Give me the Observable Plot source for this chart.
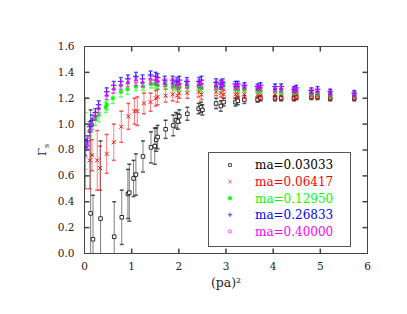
<!DOCTYPE html>
<html>
<head>
<meta charset="utf-8">
<script src="https://cdn.jsdelivr.net/npm/d3@7"></script>
<script src="https://cdn.jsdelivr.net/npm/@observablehq/plot@0.6"></script>
<style>
  body { margin: 0; background: #fff; }
  #wrap { position: relative; width: 407px; height: 314px; }
  #legend { position: absolute; left: 208px; top: 152px; }
</style>
</head>
<body>
<div id="wrap"></div>
<script>
// ---- data ----
const seriesNames = ["ma=0.03033", "ma=0.06417", "ma=0.12950", "ma=0.26833", "ma=0.40000"];
const seriesColors = ["#000000", "#ff0000", "#00ff00", "#0000ff", "#ff00ff"];
const xTicks = [0, 1, 2, 3, 4, 5, 6];
const yTicks = [0, 0.2, 0.4, 0.6, 0.8, 1.0, 1.2, 1.4, 1.6];

const xBlack = [0.13, 0.18, 0.34, 0.63, 0.79, 0.92, 0.95, 1.04, 1.09, 1.24, 1.41, 1.49, 1.52, 1.55, 1.72, 1.88, 1.94, 1.98, 2.01, 2.18, 2.42, 2.47, 2.50, 2.79, 2.89, 2.95, 3.20, 3.25, 3.39, 3.67, 3.73, 4.04, 4.17, 4.44, 4.49, 4.81, 4.94, 5.21, 5.72];
const yBlack = [0.31, 0.11, 0.27, 0.13, 0.28, 0.46, 0.47, 0.58, 0.61, 0.75, 0.82, 0.83, 0.88, 0.90, 0.96, 0.99, 1.03, 1.02, 1.06, 1.08, 1.12, 1.13, 1.11, 1.16, 1.14, 1.17, 1.17, 1.18, 1.19, 1.19, 1.20, 1.20, 1.20, 1.20, 1.21, 1.21, 1.21, 1.20, 1.20];
const eBlack = [0.80, 0.34, 0.60, 0.27, 0.21, 0.19, 0.22, 0.14, 0.16, 0.12, 0.12, 0.14, 0.09, 0.09, 0.07, 0.08, 0.06, 0.06, 0.05, 0.05, 0.04, 0.04, 0.04, 0.04, 0.04, 0.03, 0.03, 0.03, 0.03, 0.02, 0.02, 0.02, 0.02, 0.02, 0.02, 0.02, 0.02, 0.02, 0.02];

const xRed = [0.02, 0.11, 0.16, 0.27, 0.33, 0.47, 0.62, 0.78, 0.93, 1.06, 1.12, 1.26, 1.40, 1.51, 1.55, 1.72, 1.87, 1.97, 2.01, 2.18, 2.42, 2.48, 2.79, 2.89, 2.95, 3.20, 3.25, 3.39, 3.67, 3.73, 4.04, 4.17, 4.44, 4.49, 4.81, 4.94, 5.21, 5.72];
const yRed = [0.85, 0.72, 0.76, 0.72, 0.66, 0.77, 0.86, 0.98, 1.06, 1.10, 1.10, 1.16, 1.17, 1.20, 1.21, 1.22, 1.23, 1.22, 1.24, 1.24, 1.25, 1.23, 1.25, 1.24, 1.23, 1.23, 1.23, 1.23, 1.23, 1.22, 1.23, 1.22, 1.22, 1.22, 1.22, 1.22, 1.21, 1.21];
const eRed = [0.35, 0.22, 0.12, 0.23, 0.17, 0.15, 0.14, 0.12, 0.10, 0.10, 0.11, 0.08, 0.07, 0.06, 0.06, 0.05, 0.05, 0.05, 0.04, 0.04, 0.04, 0.04, 0.03, 0.03, 0.03, 0.03, 0.03, 0.03, 0.03, 0.03, 0.03, 0.03, 0.03, 0.03, 0.02, 0.02, 0.02, 0.02];

const xGreen = [0.01, 0.11, 0.16, 0.23, 0.30, 0.45, 0.47, 0.60, 0.77, 0.91, 1.09, 1.24, 1.41, 1.50, 1.55, 1.72, 1.88, 1.96, 2.01, 2.18, 2.42, 2.48, 2.79, 2.89, 2.95, 3.20, 3.25, 3.39, 3.67, 3.73, 4.04, 4.17, 4.44, 4.49, 4.81, 4.94, 5.21, 5.72];
const yGreen = [0.87, 0.95, 0.99, 1.04, 1.07, 1.13, 1.15, 1.20, 1.25, 1.27, 1.29, 1.29, 1.31, 1.31, 1.30, 1.30, 1.29, 1.29, 1.29, 1.29, 1.29, 1.28, 1.29, 1.28, 1.30, 1.28, 1.27, 1.27, 1.26, 1.26, 1.26, 1.25, 1.25, 1.25, 1.24, 1.24, 1.23, 1.23];
const eGreen = [0.22, 0.05, 0.05, 0.05, 0.05, 0.04, 0.04, 0.04, 0.04, 0.04, 0.03, 0.03, 0.03, 0.03, 0.03, 0.03, 0.03, 0.03, 0.03, 0.03, 0.03, 0.03, 0.03, 0.03, 0.03, 0.02, 0.02, 0.02, 0.02, 0.02, 0.02, 0.02, 0.02, 0.02, 0.02, 0.02, 0.02, 0.02];

const xBlue = [0.01, 0.06, 0.11, 0.16, 0.23, 0.30, 0.47, 0.62, 0.77, 0.92, 1.09, 1.23, 1.40, 1.51, 1.55, 1.70, 1.87, 1.96, 2.01, 2.17, 2.43, 2.48, 2.79, 2.89, 2.93, 3.20, 3.25, 3.39, 3.67, 3.73, 4.04, 4.17, 4.44, 4.49, 4.81, 4.94, 5.21, 5.72];
const yBlue = [0.82, 0.87, 0.98, 1.03, 1.09, 1.15, 1.25, 1.30, 1.33, 1.35, 1.37, 1.35, 1.38, 1.37, 1.36, 1.34, 1.34, 1.33, 1.34, 1.33, 1.33, 1.34, 1.32, 1.31, 1.32, 1.31, 1.31, 1.30, 1.29, 1.30, 1.29, 1.29, 1.27, 1.28, 1.26, 1.27, 1.25, 1.24];
const eBlue = [0.06, 0.04, 0.04, 0.04, 0.03, 0.03, 0.03, 0.03, 0.03, 0.03, 0.03, 0.03, 0.03, 0.03, 0.03, 0.03, 0.03, 0.03, 0.03, 0.03, 0.03, 0.03, 0.03, 0.03, 0.03, 0.02, 0.02, 0.02, 0.02, 0.02, 0.02, 0.02, 0.02, 0.02, 0.02, 0.02, 0.02, 0.02];

const xMagenta = [0.01, 0.06, 0.11, 0.16, 0.23, 0.30, 0.47, 0.62, 0.77, 0.92, 1.09, 1.23, 1.40, 1.51, 1.55, 1.70, 1.87, 1.96, 2.01, 2.17, 2.43, 2.48, 2.79, 2.89, 2.93, 3.20, 3.25, 3.39, 3.67, 3.73, 4.04, 4.17, 4.44, 4.49, 4.81, 4.94, 5.21, 5.72];
const yMagenta = [0.80, 0.85, 0.95, 1.00, 1.06, 1.12, 1.22, 1.27, 1.30, 1.32, 1.33, 1.32, 1.34, 1.34, 1.33, 1.32, 1.32, 1.31, 1.31, 1.31, 1.31, 1.31, 1.30, 1.30, 1.30, 1.29, 1.29, 1.29, 1.28, 1.28, 1.27, 1.27, 1.26, 1.26, 1.25, 1.25, 1.24, 1.23];
const eMagenta = [0.05, 0.04, 0.04, 0.04, 0.03, 0.03, 0.03, 0.03, 0.03, 0.03, 0.03, 0.03, 0.03, 0.03, 0.03, 0.03, 0.03, 0.03, 0.03, 0.03, 0.03, 0.03, 0.03, 0.03, 0.03, 0.02, 0.02, 0.02, 0.02, 0.02, 0.02, 0.02, 0.02, 0.02, 0.02, 0.02, 0.02, 0.02];

// ---- build ----
function rows(xs, ys, es) { return xs.map((x, i) => ({x, y: ys[i], lo: ys[i] - es[i], hi: ys[i] + es[i]})); }
const series = [
  rows(xBlack, yBlack, eBlack),
  rows(xRed, yRed, eRed),
  rows(xGreen, yGreen, eGreen),
  rows(xBlue, yBlue, eBlue),
  rows(xMagenta, yMagenta, eMagenta)
];

const lineSym = (dx0, dy0, dx1, dy1) => ({
  draw(ctx, size) { const r = Math.sqrt(size / Math.PI); ctx.moveTo(dx0 * r, dy0 * r); ctx.lineTo(dx1 * r, dy1 * r); }
});
const capSym = lineSym(-1, 0, 1, 0);
const tickUp = lineSym(0, 0, 0, -1);
const tickDown = lineSym(0, 0, 0, 1);
const tickRight = lineSym(0, 0, 1, 0);
const tickLeft = lineSym(0, 0, -1, 0);

const markerStyles = [
  {symbol: "square", r: 2.0, stroke: seriesColors[0], fill: "white", strokeWidth: 0.8},
  {symbol: "times", r: 2.0, stroke: seriesColors[1], strokeWidth: 0.9},
  {symbol: "square", r: 1.7, stroke: seriesColors[2], fill: seriesColors[2], strokeWidth: 0.7},
  {symbol: "plus", r: 2.0, stroke: seriesColors[3], strokeWidth: 0.9},
  {symbol: "circle", r: 1.5, stroke: seriesColors[4], fill: "none", strokeWidth: 0.9}
];

const dataMarks = [];
series.forEach((d, k) => {
  const c = seriesColors[k];
  dataMarks.push(Plot.ruleX(d, {x: "x", y1: "lo", y2: "hi", stroke: c, strokeOpacity: 0.5, clip: true}));
  dataMarks.push(Plot.dot(d, {x: "x", y: "hi", symbol: capSym, r: 2, stroke: c, strokeOpacity: 0.65, clip: true}));
  dataMarks.push(Plot.dot(d, {x: "x", y: "lo", symbol: capSym, r: 2, stroke: c, strokeOpacity: 0.65, clip: true}));
  dataMarks.push(Plot.dot(d, {x: "x", y: "y", ...markerStyles[k], clip: true}));
});

const axisColor = "#444";
const chart = Plot.plot({
  width: 407, height: 314,
  marginLeft: 84, marginRight: 40, marginTop: 46, marginBottom: 61,
  style: {fontFamily: "DejaVu Serif", fontSize: "10.5px", color: "#222", background: "#fff"},
  x: {domain: [0, 6], ticks: xTicks, tickSize: 0, tickPadding: 9, tickFormat: d => String(d), label: "(pa)²", labelAnchor: "center", labelOffset: 33, labelArrow: "none"},
  y: {domain: [0, 1.6], ticks: yTicks, tickSize: 0, tickPadding: 10, tickFormat: d => d.toFixed(1), label: null},
  marks: [
    ...dataMarks,
    Plot.dot(xTicks.slice(1, -1), {x: d => d, frameAnchor: "bottom", symbol: tickUp, r: 5, stroke: axisColor}),
    Plot.dot(xTicks.slice(1, -1), {x: d => d, frameAnchor: "top", symbol: tickDown, r: 5, stroke: axisColor}),
    Plot.dot(yTicks.slice(1, -1), {y: d => d, frameAnchor: "left", symbol: tickRight, r: 5, stroke: axisColor}),
    Plot.dot(yTicks.slice(1, -1), {y: d => d, frameAnchor: "right", symbol: tickLeft, r: 5, stroke: axisColor}),
    Plot.frame({stroke: axisColor})
  ]
});
document.getElementById("wrap").appendChild(chart);

// larger x-axis label
d3.select(chart).selectAll('[aria-label="x-axis label"] text').attr("font-size", 12.5);

// y-axis label: Γ with subscript s
const ylab = d3.select(chart).append("text")
  .attr("transform", "translate(46,150) rotate(-90)")
  .attr("text-anchor", "middle")
  .attr("font-family", "DejaVu Serif")
  .attr("font-size", 11.5)
  .attr("fill", "#222");
ylab.append("tspan").text("Γ");
ylab.append("tspan").attr("font-size", 8).attr("dy", 3).text("s");

// legend (inside plot area)
const legW = 142, legH = 94;
const leg = d3.select("#wrap").append("svg").attr("id", "legend").attr("width", legW + 1).attr("height", legH + 1);
leg.append("rect").attr("x", 0.5).attr("y", 0.5).attr("width", legW).attr("height", legH)
  .attr("fill", "white").attr("stroke", "#555");
const legSyms = [d3.symbolSquare, d3.symbolTimes, d3.symbolSquare, d3.symbolPlus, d3.symbolCircle];
const legFill = ["none", "none", seriesColors[2], "none", "none"];
seriesNames.forEach((name, i) => {
  const cy = 13 + i * 16.6;
  leg.append("path").attr("d", d3.symbol(legSyms[i], 8)())
    .attr("transform", `translate(22,${cy})`)
    .attr("stroke", seriesColors[i]).attr("fill", legFill[i]).attr("stroke-width", 0.7);
  leg.append("text").attr("x", 47).attr("y", cy).attr("dy", "0.36em")
    .attr("font-family", "DejaVu Serif").attr("font-size", 12)
    .attr("fill", seriesColors[i]).text(name);
});
</script>
</body>
</html>
